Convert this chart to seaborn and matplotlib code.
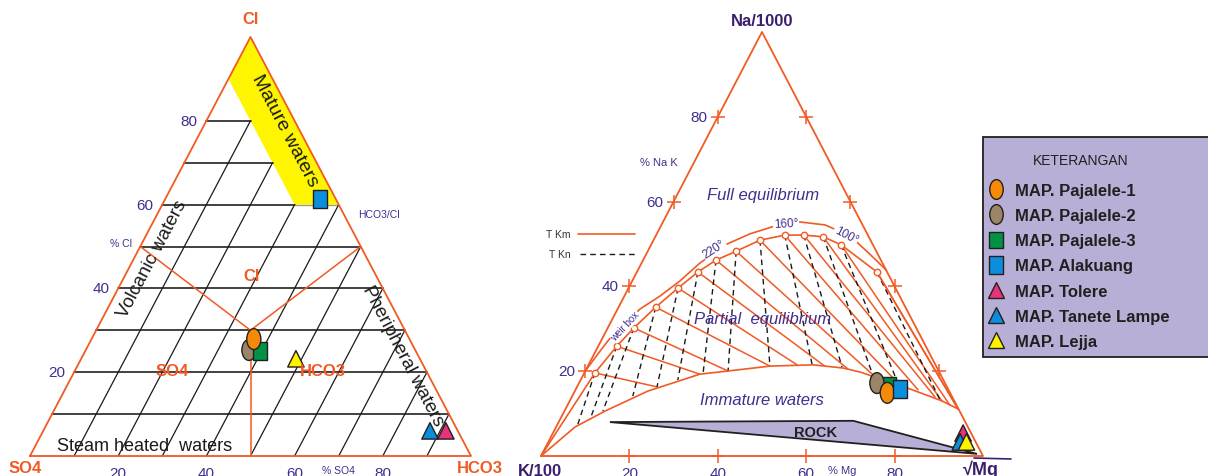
import numpy as np
import pandas as pd
import matplotlib
matplotlib.use("Agg")
import matplotlib.pyplot as plt
from matplotlib.path import Path
from matplotlib.transforms import Affine2D
from matplotlib.lines import Line2D
from matplotlib.patches import Polygon, Rectangle
import seaborn as sns

sns.set_theme(style="white")
plt.rcParams["font.family"] = ["Liberation Sans", "DejaVu Sans"]

# ---------------------------------------------------------------- data
stations = ["MAP. Pajalele-1", "MAP. Pajalele-2", "MAP. Pajalele-3",
            "MAP. Alakuang", "MAP. Tolere", "MAP. Tanete Lampe", "MAP. Lejja"]

# Cl - SO4 - HCO3 composition (%)
cl_pct = [27.9, 25.3, 25.1, 61.3, 6.0, 6.0, 23.2]
so4_pct = [35.3, 37.7, 35.3, 3.6, 2.7, 6.3, 28.1]
hco3_pct = [36.8, 37.0, 39.6, 35.1, 91.3, 87.7, 48.7]

# Na/1000 - K/100 - sqrt(Mg) composition (%)
na_pct = [14.9, 17.2, 16.5, 15.8, 5.4, 3.3, 3.3]
k_pct = [14.2, 15.4, 13.1, 10.9, 1.8, 3.5, 2.1]
mg_pct = [70.9, 67.4, 70.4, 73.3, 92.8, 93.2, 94.6]

tick_values = [20, 40, 60, 80]

# Giggenbach reference curves (Na %, Mg %)
eq_na = [0, 19.6, 25.9, 30.2, 35.1, 39.6, 43.4, 46.2, 48.3, 50.9, 52.1, 52.1, 51.7, 49.8, 43.4, 11.1]
eq_mg = [0, 2.4, 4.2, 5.9, 8.4, 11.2, 13.8, 16.5, 20.0, 24.1, 29.1, 33.4, 38.0, 43.0, 54.3, 88.8]
arc_na = [20.05, 24.8, 29.25, 34.7, 37.7, 41.3, 45.5, 50.0, 52.4, 54.25, 55.2, 54.5, 51.9, 47.6, 43.9]
arc_mg = [0.0, 1.0, 2.1, 5.1, 8.05, 10.8, 13.2, 17.1, 21.1, 25.8, 31.0, 37.0, 44.0, 50.6, 56.1]
low_na = [0, 6.84, 10.6, 15.3, 19.3, 20.05, 21.2, 21.5, 20.75, 19.8, 18.2, 15.8, 13.0, 11.1]
low_mg = [0, 4.27, 9.2, 16.5, 26.3, 32.3, 41.2, 50.8, 57.95, 62.3, 67.6, 75.6, 84.2, 88.8]
km_end_na = [16.3, 19.3, 20.05, 21.2, 21.5, 21.2, 20.5, 19.1, 17.45, 15.6, 13.9, 13.0, 12.0, 11.1]
km_end_mg = [18.1, 26.3, 32.3, 41.2, 47.2, 53.6, 59.2, 65.6, 71.8, 77.5, 82.2, 84.2, 86.5, 88.8]
kn_end_na = [6.84, 8.5, 10.6, 14.15, 16.3, 17.9, 19.3, 20.05, 21.2, 21.5, 21.0, 19.6, 17.7, 13.4]
kn_end_mg = [4.7, 6.8, 8.7, 13.7, 18.1, 22.0, 27.0, 32.3, 41.2, 50.6, 57.6, 65.1, 71.7, 83.5]
rock_na = [8.0, 8.3, 0.5]
rock_mg = [11.6, 66.5, 98.4]

# ---------------------------------------------------------------- styles
ORANGE = "#F15A24"
PURPLE = "#412E8E"
DPURPLE = "#3B1F6F"
INK = "#231F20"
LAVENDER = "#B8AFD6"

palette = {
    "MAP. Pajalele-1": "#F58A07",
    "MAP. Pajalele-2": "#9A8566",
    "MAP. Pajalele-3": "#009245",
    "MAP. Alakuang": "#0B8EDB",
    "MAP. Tolere": "#E6337A",
    "MAP. Tanete Lampe": "#0B8EDB",
    "MAP. Lejja": "#FFF200",
}
ellipse = Path.unit_circle().transformed(Affine2D().scale(0.68, 1.0))
rect = Path([(-0.39, -0.5), (0.39, -0.5), (0.39, 0.5), (-0.39, 0.5), (-0.39, -0.5)],
            [Path.MOVETO, Path.LINETO, Path.LINETO, Path.LINETO, Path.CLOSEPOLY])
markers = {
    "MAP. Pajalele-1": ellipse, "MAP. Pajalele-2": ellipse,
    "MAP. Pajalele-3": rect, "MAP. Alakuang": rect,
    "MAP. Tolere": "^", "MAP. Tanete Lampe": "^", "MAP. Lejja": "^",
}
sizes = {
    "MAP. Pajalele-1": 225, "MAP. Pajalele-2": 225,
    "MAP. Pajalele-3": 165, "MAP. Alakuang": 170,
    "MAP. Tolere": 140, "MAP. Tanete Lampe": 140, "MAP. Lejja": 140,
}


def lxy(cl, hco3):
    cl = np.asarray(cl, float)
    hco3 = np.asarray(hco3, float)
    return hco3 + cl / 2.0, cl


def rxy(na, mg):
    na = np.asarray(na, float)
    mg = np.asarray(mg, float)
    return mg + na / 2.0, na


W, H = 1208, 477
fig = plt.figure(figsize=(W / 100, H / 100), dpi=100)
axL = fig.add_axes([30 / W, 20 / H, 441 / W, 419 / H])
axR = fig.add_axes([541 / W, 20 / H, 442 / W, 424 / H])
ov = fig.add_axes([0, 0, 1, 1], zorder=1)
for a in (axL, axR):
    a.set_xlim(0, 100)
    a.set_ylim(0, 100)
    a.axis("off")
ov.set_xlim(0, W)
ov.set_ylim(H, 0)
ov.axis("off")

# ================================================= Cl - SO4 - HCO3 panel
bx, by = lxy([100, 90, 60, 60], [0, 0, 30, 40])
axL.fill(bx, by, color="#FFF500", lw=0, zorder=1)

for c in range(10, 90, 10):
    end = {60: 30, 70: 20, 80: 10}.get(c, 100 - c)
    x, y = lxy([c, c], [0, end])
    axL.plot(x, y, color="#333333", lw=1.3, zorder=2, clip_on=False)
x, y = lxy([60, 60], [30, 40])
axL.plot(x, y, color="#A0A070", lw=1.0, zorder=2)

for h in range(10, 100, 10):
    top = min(100 - h, max(60, 90 - h), 80)
    x, y = lxy([0, top], [h, h])
    axL.plot(x, y, color="#1A1A1A", lw=0.9, zorder=2, clip_on=False)

x, y = lxy([0, 0, 100, 0], [0, 100, 0, 0])
axL.plot(x, y, color=ORANGE, lw=1.3, zorder=3, clip_on=False)
x, y = lxy([50, 30, 50], [0, 35, 50])
axL.plot(x, y, color=ORANGE, lw=1.1, zorder=3)
x, y = lxy([30, 0], [35, 50])
axL.plot(x, y, color=ORANGE, lw=1.1, zorder=3, clip_on=False)

for v in tick_values:
    axL.annotate(str(v), xy=lxy(v, 0), xytext=(-6.5, 0), textcoords="offset points",
                 ha="right", va="center", fontsize=11, color=PURPLE)
    axL.annotate(str(v), xy=lxy(0, v), xytext=(0, -12), textcoords="offset points",
                 ha="center", va="center", fontsize=11, color=PURPLE, annotation_clip=False)

left_df = pd.DataFrame({"station": stations, "Cl": cl_pct, "SO4": so4_pct, "HCO3": hco3_pct})
left_df["x"], left_df["y"] = lxy(left_df["Cl"], left_df["HCO3"])
left_draw = ["MAP. Alakuang", "MAP. Tanete Lampe", "MAP. Tolere", "MAP. Lejja",
             "MAP. Pajalele-2", "MAP. Pajalele-3", "MAP. Pajalele-1"]
left_df = left_df.set_index("station").loc[left_draw].reset_index()
sns.scatterplot(data=left_df, x="x", y="y", hue="station", style="station", size="station",
                palette=palette, markers=markers, sizes=sizes,
                hue_order=stations, style_order=stations, size_order=stations,
                edgecolor=INK, linewidth=1.0, legend=False, ax=axL, zorder=6, clip_on=False)
axL.set_xlim(0, 100)
axL.set_ylim(0, 100)

# ================================================= Na - K - Mg panel
x, y = rxy([0, 0, 100, 0], [0, 100, 0, 0])
axR.plot(x, y, color=ORANGE, lw=1.3, zorder=3, clip_on=False)

rx, ry = rxy(rock_na, rock_mg)
axR.add_patch(Polygon(np.column_stack([rx, ry]), closed=True, facecolor=LAVENDER,
                      edgecolor=INK, lw=1.3, zorder=2))

for i in range(len(km_end_na)):
    x, y = rxy([eq_na[i + 1], km_end_na[i]], [eq_mg[i + 1], km_end_mg[i]])
    axR.plot(x, y, color=ORANGE, lw=1.1, zorder=3)
    x, y = rxy([eq_na[i + 1], kn_end_na[i]], [eq_mg[i + 1], kn_end_mg[i]])
    axR.plot(x, y, color="#1A1A1A", lw=1.0, ls=(0, (4, 3)), zorder=3)

x, y = rxy(arc_na, arc_mg)
axR.plot(x, y, color=ORANGE, lw=1.2, zorder=3)
x, y = rxy(low_na, low_mg)
axR.plot(x, y, color=ORANGE, lw=1.2, zorder=3, clip_on=False)
x, y = rxy(eq_na, eq_mg)
axR.plot(x, y, color=ORANGE, lw=1.2, zorder=3, clip_on=False)
axR.plot(x[1:-1], y[1:-1], ls="none", marker="o", ms=4.6, mfc="white", mec=ORANGE,
         mew=1.0, zorder=4)

for v in tick_values:
    for na_v, mg_v in ((v, 0), (v, 100 - v), (0, v)):
        tx, ty = rxy(na_v, mg_v)
        axR.plot([tx], [ty], marker="+", ms=9.5, mew=1.1, color=ORANGE, zorder=4, clip_on=False)
    axR.annotate(str(v), xy=rxy(v, 0), xytext=(-7.5, 0), textcoords="offset points",
                 ha="right", va="center", fontsize=11, color=PURPLE)
    axR.annotate(str(v), xy=rxy(0, v), xytext=(0, -12), textcoords="offset points",
                 ha="center", va="center", fontsize=11, color=PURPLE, annotation_clip=False)

right_df = pd.DataFrame({"station": stations, "Na": na_pct, "K": k_pct, "Mg": mg_pct})
right_df["x"], right_df["y"] = rxy(right_df["Na"], right_df["Mg"])
right_draw = ["MAP. Pajalele-3", "MAP. Pajalele-2", "MAP. Pajalele-1", "MAP. Alakuang",
              "MAP. Tolere", "MAP. Tanete Lampe", "MAP. Lejja"]
right_df = right_df.set_index("station").loc[right_draw].reset_index()
sns.scatterplot(data=right_df, x="x", y="y", hue="station", style="station", size="station",
                palette=palette, markers=markers, sizes=sizes,
                hue_order=stations, style_order=stations, size_order=stations,
                edgecolor=INK, linewidth=1.0, legend=False, ax=axR, zorder=6, clip_on=False)
axR.set_xlim(0, 100)
axR.set_ylim(0, 100)

# ================================================= labels
def put(x, y, s, **kw):
    kw.setdefault("ha", "center")
    kw.setdefault("va", "center")
    ov.text(x, y, s, **kw)

# left panel
put(251, 20, "Cl", fontsize=12, fontweight="bold", color=ORANGE)
put(25, 469, "SO4", fontsize=12, fontweight="bold", color=ORANGE)
put(480, 469, "HCO3", fontsize=12, fontweight="bold", color=ORANGE)
put(252, 277, "Cl", fontsize=12, fontweight="bold", color=ORANGE)
put(172, 372, "SO4", fontsize=12, fontweight="bold", color=ORANGE)
put(323, 372, "HCO3", fontsize=12, fontweight="bold", color=ORANGE)
put(121, 244, "% Cl", fontsize=7.5, color=PURPLE)
put(379, 215, "HCO3/Cl", fontsize=7.5, color=PURPLE)
put(338, 471, "% SO4", fontsize=7.5, color=PURPLE)
put(285, 131, "Mature waters", fontsize=14, color="#1A1A1A", rotation=-62.3,
    rotation_mode="anchor")
put(152, 259, "Volcanic waters", fontsize=13.5, color="#1A1A1A", rotation=62.3,
    rotation_mode="anchor")
put(403, 356, "Pheripheral waters", fontsize=13.5, color="#1A1A1A", rotation=-62.3,
    rotation_mode="anchor")
put(57, 447, "Steam heated  waters", fontsize=13, color="#1A1A1A", ha="left")

# right panel
put(762, 22, "Na/1000", fontsize=12, fontweight="bold", color=DPURPLE)
put(540, 472, "K/100", fontsize=12, fontweight="bold", color=DPURPLE)
put(981, 470, "\u221aMg", fontsize=13, fontweight="bold", color=DPURPLE)
ov.plot([974, 1011], [459, 460], color=DPURPLE, lw=1.2)
put(659, 163, "% Na K", fontsize=8, color=PURPLE)
put(842, 471, "% Mg", fontsize=8, color=PURPLE)
put(763, 196, "Full equilibrium", fontsize=12, style="italic", color=PURPLE)
put(763, 320, "Partial  equilibrium", fontsize=12, style="italic", color=PURPLE)
put(762, 401, "Immature waters", fontsize=12, style="italic", color=PURPLE)
put(816, 433, "ROCK", fontsize=10.5, fontweight="bold", color=INK)
white = dict(facecolor="white", edgecolor="none", pad=0.6)
put(625, 327, "weir box", fontsize=7, color=PURPLE, rotation=47, bbox=white)
put(714, 250, "220\u00b0", fontsize=8.5, color=PURPLE, rotation=33, bbox=white)
put(786, 224, "160\u00b0", fontsize=8.5, color=PURPLE, rotation=3, bbox=white)
put(846, 236, "100\u00b0", fontsize=8.5, color=PURPLE, rotation=-28, bbox=white)

put(571, 235, "T Km", fontsize=7.5, color="#333333", ha="right")
put(571, 255, "T Kn", fontsize=7.5, color="#333333", ha="right")
ov.plot([578, 635], [235, 235], color=ORANGE, lw=1.2)
ov.plot([580, 637], [255, 255], color="#1A1A1A", lw=1.0, ls=(0, (4, 3)))

# legend box
ov.add_patch(Rectangle((983, 138), 240, 220, facecolor=LAVENDER, edgecolor=INK,
                       lw=1.3, zorder=0, clip_on=False))
put(1081, 161, "KETERANGAN", fontsize=10, color=INK)
handles = [Line2D([], [], ls="none", marker=markers[s], ms=np.sqrt(sizes[s]) * 0.95,
                  mfc=palette[s], mec=INK, mew=1.0) for s in stations]
fig.legend(handles, stations, loc="upper left",
           bbox_to_anchor=(988 / W, 1 - 184 / H), frameon=False, borderpad=0,
           borderaxespad=0, handlelength=1.0, handletextpad=0.62, labelspacing=0.61,
           prop={"size": 12, "weight": "bold"}, labelcolor=INK)

fig.savefig("out.png", dpi=100)
